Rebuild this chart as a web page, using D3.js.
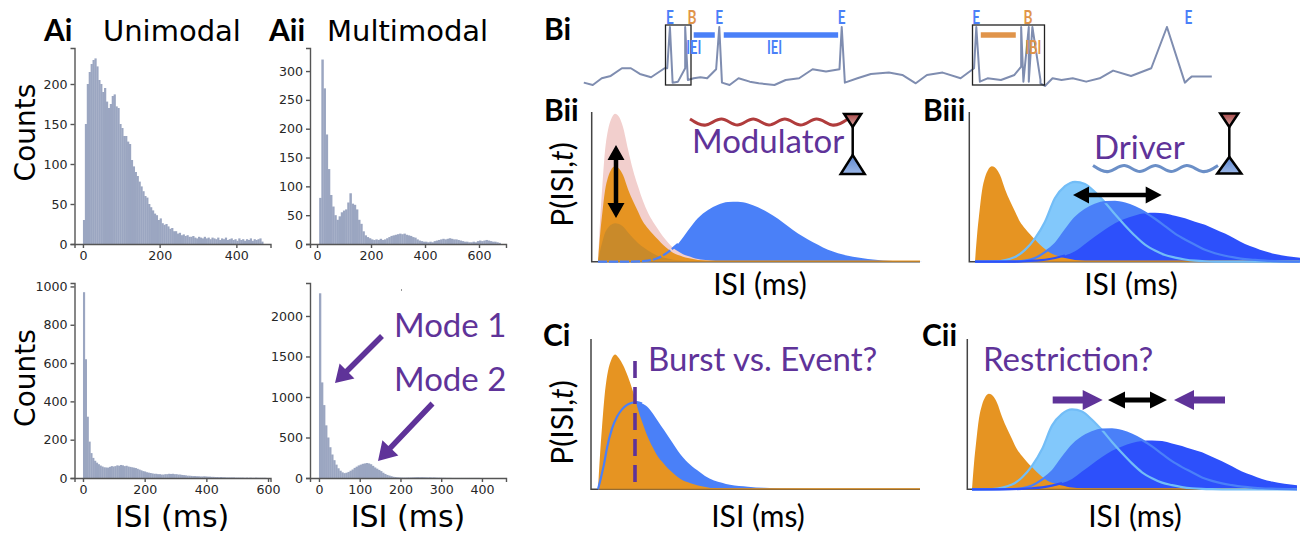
<!DOCTYPE html>
<html>
<head>
<meta charset="utf-8">
<script src="https://cdn.jsdelivr.net/npm/d3@7"></script>
<style>
    html, body { margin: 0; padding: 0; background: #fff; }
    svg { display: block; }
    .tick text { font-family: "DejaVu Sans"; font-size: 12.6px; fill: #262626; }
    .soft { filter: blur(0.45px); }
</style>
</head>
<body>
<div id="fig"></div>
<script>
const uniTopCounts = [30,150,200,215,225,230,232,222,205,200,190,195,178,170,175,185,187,172,170,150,145,135,135,128,125,105,97,90,85,78,72,66,60,58,50,46,42,38,36,30,32,26,24,25,22,19,20,16,16,13,14,11,12,10,11,9,9,10,8,7,9,8,7,9,7,8,6,8,7,6,8,5,7,6,8,5,6,7,5,6,4,7,5,6,4,6,5,7,4,6,5,6,7,3];
const multiTopCounts = [0,80,320,270,190,130,85,65,50,42,48,55,58,60,72,88,70,68,60,42,35,22,15,12,10,8,7,8,7,9,7,8,10,12,14,15,16,17,18,17,18,16,15,14,12,11,8,6,5,4,4,3,4,3,5,6,7,8,9,8,9,10,9,8,8,7,6,5,4,4,3,3,4,3,5,6,5,6,7,6,5,4,4,3,2];
const uniBottomCounts = [970,620,320,190,130,105,90,80,72,65,60,56,55,54,58,62,60,62,66,64,68,66,62,64,60,58,56,54,52,48,44,40,36,34,30,28,26,24,22,22,20,20,18,18,20,20,22,21,22,20,20,18,18,16,15,14,12,12,11,10,10,9,9,8,8,9,8,7,7,6,6,5,5,4,5,4,4,3,3,3,3,3,2,2,2,2,2,1,2,1,2,1,1,2,1,1,1,1,1];
const multiBottomCounts = [2280,1180,900,650,500,380,290,220,165,120,90,70,60,65,75,90,105,125,140,155,165,175,180,185,180,170,150,130,115,100,85,65,50,38,30,22,15,12,9,7,6,5,5,6,6,7,8,9,10,9,10,9,8,7,8,6,7,5,4,4,3,3,2,2,2,1,1,1,1,1,1,1,1,1,1,1,1,1,1];

// bin widths (ms)
const uniTopBin = 5, multiTopBin = 8, uniBottomBin = 6, multiBottomBin = 5;

const uniTopTicksX = [0, 200, 400], uniTopTicksY = [0, 50, 100, 150, 200];
const multiTopTicksX = [0, 200, 400, 600], multiTopTicksY = [0, 50, 100, 150, 200, 250, 300];
const uniBottomTicksX = [0, 200, 400, 600], uniBottomTicksY = [0, 200, 400, 600, 800, 1000];
const multiBottomTicksX = [0, 100, 200, 300, 400], multiBottomTicksY = [0, 500, 1000, 1500, 2000];

// schematic ISI distributions
const burstIsi = [0,2,4,7,10,13,17,21,25,30,35,40,45,50,55,60,65,70,75,80,85,90,95,100,105,110,115,120,125,130,135,325];
const burstHigh = [0,27,48,75,89,96,100,98,91,76,62,51,41,33,27,22,17,13,9.5,7,5,3.8,2.7,1.9,1.3,.9,.6,.4,.2,.1,0,0];
const burstMid = [0,17.5,31,48,57,62,64.5,63,58.5,49,41,34,27,22.5,18.5,15,11.5,8.5,6,4.5,3.4,2.5,1.8,1.2,.8,.5,.3,.2,.1,.05,0,0];
const burstLow = [0,7,12.5,19.5,23,25,26,25.5,23.7,19.8,16,12.7,9.9,7.5,5.5,3.9,2.9,2.1,1.4,1,.7,.5,.36,.26,.18,.13,.08,.05,.03,.01,0,0];
const burstTall = [0,23,42,66,80,87,91,88.5,84,76,66,54,44,35,28,22,18,14,11,8.2,6,4.8,3.5,2.6,1.9,1.3,.8,.5,.3,.15,0,0];

const eventIsi = [0,20,40,50,60,70,80,90,100,110,120,130,140,150,160,170,180,190,200,210,220,230,240,250,260,270,280,290,300,325];
const eventEarly = [0,.2,3.2,8,15.8,27,43,51,54,52.5,47,40,32,24.5,17.5,11.5,7.5,4.5,2.8,1.5,.7,.3,.1,0,0,0,0,0,0,0];
const eventMid = [0,0,.2,.7,2.5,6.5,12,21,29.5,35,38.5,40.3,40.5,39.3,36.8,33.3,29,24,19,15,11.5,8,5.7,4,2.8,1.8,1.2,.7,.4,0];
const eventLate = [0,0,.1,.3,.7,1.3,2.5,4.2,7,12,17,21.8,26,29,31.3,32.7,33,32.6,31,29.3,27,25,22,19,15.5,12,9.5,7,5.2,2.7];

const overlapIsi = [0,3,6,9,14,19,24,29,34,39,44,49,55,60,66,74,82,90,99,107,116,124,132,150,166,200,240,325];
const overlapEvent = [0,8,17,28,41,49,54,57,58.5,59,58,56,51,46,40,32,24,18,13,9,6,4.5,3,1.8,1,.3,0,0];

// voltage trace in Bi
const traceTime = [0,20,40,60,85,105,125,150,180,186,192,198,210,226,226,232,245,260,275,295,302,308,325,345,370,390,425,450,480,510,540,570,575,582,610,640,680,710,740,765,800,840,870,875,883,900,930,960,975,975,980,992,992,1000,1018,1018,1028,1045,1065,1090,1120,1150,1180,1220,1265,1300,1340,1348,1355,1370,1400];
const traceVolt = [7,0,20,27,50,50,33,23,50,50,173,7,10,50,173,15,20,23,20,47,173,7,0,20,10,5,0,15,20,47,40,47,173,7,20,33,37,30,5,30,37,20,50,173,10,20,15,30,55,173,10,173,10,173,15,5,-3,20,15,20,10,20,43,27,50,173,7,17,25,25,25];
const eventSpikes = [192, 302, 575, 875, 1348];
const burstSpikes = [226, 975];

// wiggly synapse inputs (px offsets are drawn through wave scale)
const modulatorWave = [1,-1,1,-1,1,-1,1,-1,1,-1,1];
const driverWave = [1,-1,1,-1,1,-1,1,-1,1];

const blue = "#4a80f8", lightBlue = "#82c8fb", darkBlue = "#2d50fb", orange = "#e69422",
    pink = "#f2cfcd", lowOrange = "#c98a2a", purple = "#5f3399", barColor = "#9ba6c1";
const calibri = "Lato", mpl = "DejaVu Sans";

const svg = d3.select("#fig").append("svg").attr("width", 1306).attr("height", 536);

const defs = svg.append("defs");
function gradient(id, top, bottom) {
    let g = defs.append("linearGradient").attr("id", id).attr("x1", 0).attr("x2", 0).attr("y1", 0).attr("y2", 1);
    g.append("stop").attr("offset", 0).attr("stop-color", top);
    g.append("stop").attr("offset", 1).attr("stop-color", bottom);
}
gradient("redTri", "#a84a4a", "#dca9a6");
gradient("blueTri", "#5b86d0", "#9db8e8");

function label(txt, x, y, opt) {
    opt = opt || {};
    let t = svg.append("text")
        .attr("x", x).attr("y", y)
        .attr("font-family", opt.font || calibri)
        .attr("font-size", opt.size || 30)
        .attr("font-weight", opt.bold ? 700 : 400)
        .attr("fill", opt.color || "#000")
        .attr("text-anchor", opt.anchor || "start")
        .text(txt);
    if (opt.rotate) t.attr("transform", "rotate(-90," + x + "," + y + ")");
    return t;
}

function histogram(counts, binWidth, box, xDomain, yMax, xTicks, yTicks) {
    let x = d3.scaleLinear().domain(xDomain).range([box.left, box.right]);
    let y = d3.scaleLinear().domain([0, yMax]).range([box.bottom, box.top]);

    svg.append("g").attr("class", "soft").selectAll("rect")
        .data(counts).enter().append("rect")
        .attr("x", (d, i) => x(i * binWidth))
        .attr("y", d => y(d))
        .attr("width", x(binWidth) - x(0) + 0.3)
        .attr("height", d => y(0) - y(d))
        .attr("fill", barColor);

    let ax = svg.append("g").attr("transform", "translate(0," + box.bottom + ")")
        .call(d3.axisBottom(x).tickValues(xTicks).tickFormat(d3.format("d")).tickSize(4).tickPadding(3));
    let ay = svg.append("g").attr("transform", "translate(" + box.left + ",0)")
        .call(d3.axisLeft(y).tickValues(yTicks).tickFormat(d3.format("d")).tickSize(4).tickPadding(3));
    [ax, ay].forEach(a => {
        a.selectAll("path,line").attr("stroke", "#555").attr("stroke-width", 1.4);
    });
}

histogram(uniTopCounts, uniTopBin, {left: 74.5, right: 270.5, top: 48, bottom: 244}, [-22, 489], 245, uniTopTicksX, uniTopTicksY);
histogram(multiTopCounts, multiTopBin, {left: 310, right: 506, top: 48, bottom: 244}, [-26, 700], 340, multiTopTicksX, multiTopTicksY);
histogram(uniBottomCounts, uniBottomBin, {left: 74.5, right: 270.5, top: 283, bottom: 478}, [-27.5, 608], 1018, uniBottomTicksX, uniBottomTicksY);
histogram(multiBottomCounts, multiBottomBin, {left: 310, right: 506, top: 283, bottom: 478}, [-22, 459], 2407, multiBottomTicksX, multiBottomTicksY);

label("Ai", 44, 41, {bold: true, size: 30});
label("Unimodal", 103, 41, {font: mpl, size: 29});
label("Aii", 269, 41, {bold: true, size: 30});
label("Multimodal", 327, 41, {font: mpl, size: 29});
label("Counts", 35, 132.5, {font: mpl, size: 28, rotate: true, anchor: "middle"});
label("Counts", 35, 378, {font: mpl, size: 28, rotate: true, anchor: "middle"});
label("ISI (ms)", 172, 527, {font: mpl, size: 30, anchor: "middle"});
label("ISI (ms)", 408, 527, {font: mpl, size: 30, anchor: "middle"});
label("Mode 1", 394, 337, {color: purple, size: 33});
label("Mode 2", 394, 391, {color: purple, size: 33});

function blockArrow(x1, y1, x2, y2, color, shaft, headW, headL, both) {
    // arrow outline built along the (x1,y1)->(x2,y2) direction
    let len = Math.hypot(x2 - x1, y2 - y1), deg = Math.atan2(y2 - y1, x2 - x1) * 180 / Math.PI;
    let h = shaft / 2, w = headW / 2;
    let pts = both
        ? [[0,0],[headL,-w],[headL,-h],[len-headL,-h],[len-headL,-w],[len,0],[len-headL,w],[len-headL,h],[headL,h],[headL,w]]
        : [[0,-h],[len-headL,-h],[len-headL,-w],[len,0],[len-headL,w],[len-headL,h],[0,h]];
    svg.append("polygon")
        .attr("points", pts.map(p => p.join(",")).join(" "))
        .attr("transform", "translate(" + x1 + "," + y1 + ") rotate(" + deg + ")")
        .attr("fill", color);
}
blockArrow(382, 336, 335, 383, purple, 5.5, 21, 17);
blockArrow(432.5, 403.5, 378, 461, purple, 5.5, 22, 18);

// Bi trace
const traceX = d3.scaleLinear().domain([0, 1400]).range([583.8, 1211.8]);
const traceY = d3.scaleLinear().domain([0, 173]).range([85, 27]);
svg.append("path").attr("class", "soft")
    .attr("d", d3.line().x((d, i) => traceX(traceTime[i])).y(d => traceY(d))(traceVolt))
    .attr("fill", "none").attr("stroke", "#7f8db0").attr("stroke-width", 2).attr("stroke-linejoin", "round");

[[665.5, 25, 25.5, 60], [972.5, 25, 72, 60]].forEach(b => {
    svg.append("rect").attr("x", b[0]).attr("y", b[1]).attr("width", b[2]).attr("height", b[3])
        .attr("fill", "none").attr("stroke", "#222").attr("stroke-width", 1.3);
});

function squeezed(txt, time, y, color, size) {
    let cx = traceX(time);
    svg.append("text")
        .attr("transform", "translate(" + cx + "," + y + ") scale(0.72,1)")
        .attr("font-family", calibri).attr("font-size", size).attr("font-weight", 700)
        .attr("text-anchor", "middle").attr("fill", color).text(txt);
}
eventSpikes.forEach(t => squeezed("E", t, 23.5, blue, 19));
burstSpikes.forEach(t => squeezed("B", t + 15, 23.5, "#e0944a", 19));
squeezed("IEI", 245, 54, blue, 18);
squeezed("IEI", 425, 54, blue, 18);
squeezed("IBI", 1042 - 40, 54, "#e0944a", 18);

function intervalBar(t1, t2, color) {
    svg.append("line").attr("x1", traceX(t1)).attr("x2", traceX(t2))
        .attr("y1", 35).attr("y2", 35)
        .attr("stroke", color).attr("stroke-width", 5.5);
}
intervalBar(245, 292, blue);
intervalBar(312, 567, blue);
intervalBar(885, 963, "#e0944a");

label("Bi", 544, 40, {bold: true, size: 30});
label("Bii", 544, 121, {bold: true, size: 30});
label("Biii", 923, 121, {bold: true, size: 30});
label("Ci", 543, 346, {bold: true, size: 30});
label("Cii", 922, 346, {bold: true, size: 30});

// schematic panels share the same scale shape, one px per isi unit
function schematic(box) {
    let x = d3.scaleLinear().domain([0, 325]).range([box.start, box.start + 325]).clamp(true);
    let y = d3.scaleLinear().domain([0, 100]).range([box.bottom, box.bottom - 148]);
    let area = (xs, ys) => d3.area().x((d, i) => x(xs[i])).y0(box.bottom).y1(d => y(d)).curve(d3.curveMonotoneX)(ys);
    let line = (xs, ys) => d3.line().x((d, i) => x(xs[i])).y(d => y(d)).curve(d3.curveMonotoneX)(ys);
    return {
        fill: (xs, ys, color) => svg.append("path").attr("d", area(xs, ys)).attr("fill", color),
        stroke: (xs, ys, color, dash) => svg.append("path").attr("d", line(xs, ys))
            .attr("fill", "none").attr("stroke", color).attr("stroke-width", 2.2)
            .attr("stroke-dasharray", dash || null),
        axes: () => {
            svg.append("path")
                .attr("d", "M" + box.left + "," + box.top + "V" + box.bottom + "H" + box.right)
                .attr("fill", "none").attr("stroke", "#444").attr("stroke-width", 1.5);
            svg.append("line").attr("x1", x(0)).attr("x2", box.right)
                .attr("y1", box.bottom - 0.5).attr("y2", box.bottom - 0.5)
                .attr("stroke", orange).attr("stroke-width", 1.2);
        }
    };
}

function eventFamily(box) {
    let p = schematic(box);
    p.fill(eventIsi, eventEarly, lightBlue);
    p.fill(eventIsi, eventMid, blue);
    p.fill(eventIsi, eventLate, darkBlue);
    p.fill(burstIsi, burstMid, orange);
    p.axes();
    p.stroke(eventIsi, eventEarly, "#72bdf7");
    p.stroke(eventIsi, eventMid, blue);
    p.stroke(eventIsi.slice(0, 8), eventLate.slice(0, 8), darkBlue);
}

// Bii
let bii = schematic({left: 591.7, right: 920, top: 112, bottom: 261.7, start: 598});
bii.fill(eventIsi, eventMid, blue);
bii.fill(burstIsi, burstHigh, pink);
bii.fill(burstIsi, burstMid, orange);
bii.fill(burstIsi, burstLow, lowOrange);
bii.axes();
bii.stroke(eventIsi.slice(0, 7), eventMid.slice(0, 7), blue, "9 2");
blockArrow(616, 145, 616, 218, "#000", 4.5, 17, 15, true);

// Biii, Cii
eventFamily({left: 969.3, right: 1299, top: 112, bottom: 261.7, start: 975});
blockArrow(1073, 195, 1161.7, 195, "#000", 4.5, 17, 16, true);
eventFamily({left: 967.3, right: 1296, top: 339, bottom: 489.3, start: 972});
blockArrow(1052.7, 400, 1102.7, 400, purple, 7, 20, 20);
blockArrow(1108, 400, 1167, 400, "#000", 5, 17, 17, true);
blockArrow(1225, 400, 1174, 400, purple, 7, 20, 20);

// Ci
let ci = schematic({left: 591, right: 920, top: 339, bottom: 489.3, start: 598});
ci.fill(overlapIsi, overlapEvent, blue);
ci.fill(burstIsi, burstTall, orange);
ci.axes();
ci.stroke(overlapIsi.slice(0, 11), overlapEvent.slice(0, 11), blue);
svg.append("line").attr("x1", 635).attr("x2", 635).attr("y1", 361).attr("y2", 490)
    .attr("stroke", purple).attr("stroke-width", 3.6).attr("stroke-dasharray", "17 9");

// synapse icons
function wave(values, x1, x2, yMid, color) {
    let x = d3.scaleLinear().domain([0, values.length - 1]).range([x1, x2]);
    let y = d3.scaleLinear().domain([-1, 1]).range([yMid + 3, yMid - 3]);
    svg.append("path")
        .attr("d", d3.line().x((d, i) => x(i)).y(d => y(d)).curve(d3.curveNatural)(values))
        .attr("fill", "none").attr("stroke", color).attr("stroke-width", 3);
}
function synapse(cx, top, apex1, apex2, bottom, halfTop, halfBottom) {
    svg.append("line").attr("x1", cx).attr("x2", cx).attr("y1", apex1).attr("y2", apex2)
        .attr("stroke", "#000").attr("stroke-width", 2.5);
    svg.append("polygon")
        .attr("points", [[cx - halfTop, top], [cx + halfTop, top], [cx, apex1]].map(p => p.join(",")).join(" "))
        .attr("fill", "url(#redTri)").attr("stroke", "#000").attr("stroke-width", 2.5);
    svg.append("polygon")
        .attr("points", [[cx - halfBottom, bottom], [cx + halfBottom, bottom], [cx, apex2]].map(p => p.join(",")).join(" "))
        .attr("fill", "url(#blueTri)").attr("stroke", "#000").attr("stroke-width", 2.5);
}
wave(modulatorWave, 690, 848, 122, "#b03c3c");
synapse(852.7, 114, 127, 155, 174, 8.5, 12);
wave(driverWave, 1093, 1218, 168.5, "#6b8fc7");
synapse(1229.3, 113.5, 127, 157, 173.5, 9, 12);

label("Modulator", 692, 152.5, {color: purple, size: 33});
label("Driver", 1094, 159, {color: purple, size: 33});
label("Burst vs. Event?", 648, 371, {color: purple, size: 33});
label("Restriction?", 983, 371, {color: purple, size: 33});

label("ISI (ms)", 760, 295, {size: 30, anchor: "middle"});
label("ISI (ms)", 1131, 295, {size: 30, anchor: "middle"});
label("ISI (ms)", 758, 527, {size: 30, anchor: "middle"});
label("ISI (ms)", 1135, 527, {size: 30, anchor: "middle"});

function pLabel(y) {
    let t = label("P(ISI,", 573, y, {size: 30, rotate: true, anchor: "middle"});
    t.append("tspan").attr("font-style", "italic").text("t");
    t.append("tspan").text(")");
}
pLabel(184.5);
pLabel(422.5);

// stray speck in the source image
svg.append("rect").attr("x", 401).attr("y", 289.5).attr("width", 1).attr("height", 1).attr("fill", "#333");
</script>
</body>
</html>
